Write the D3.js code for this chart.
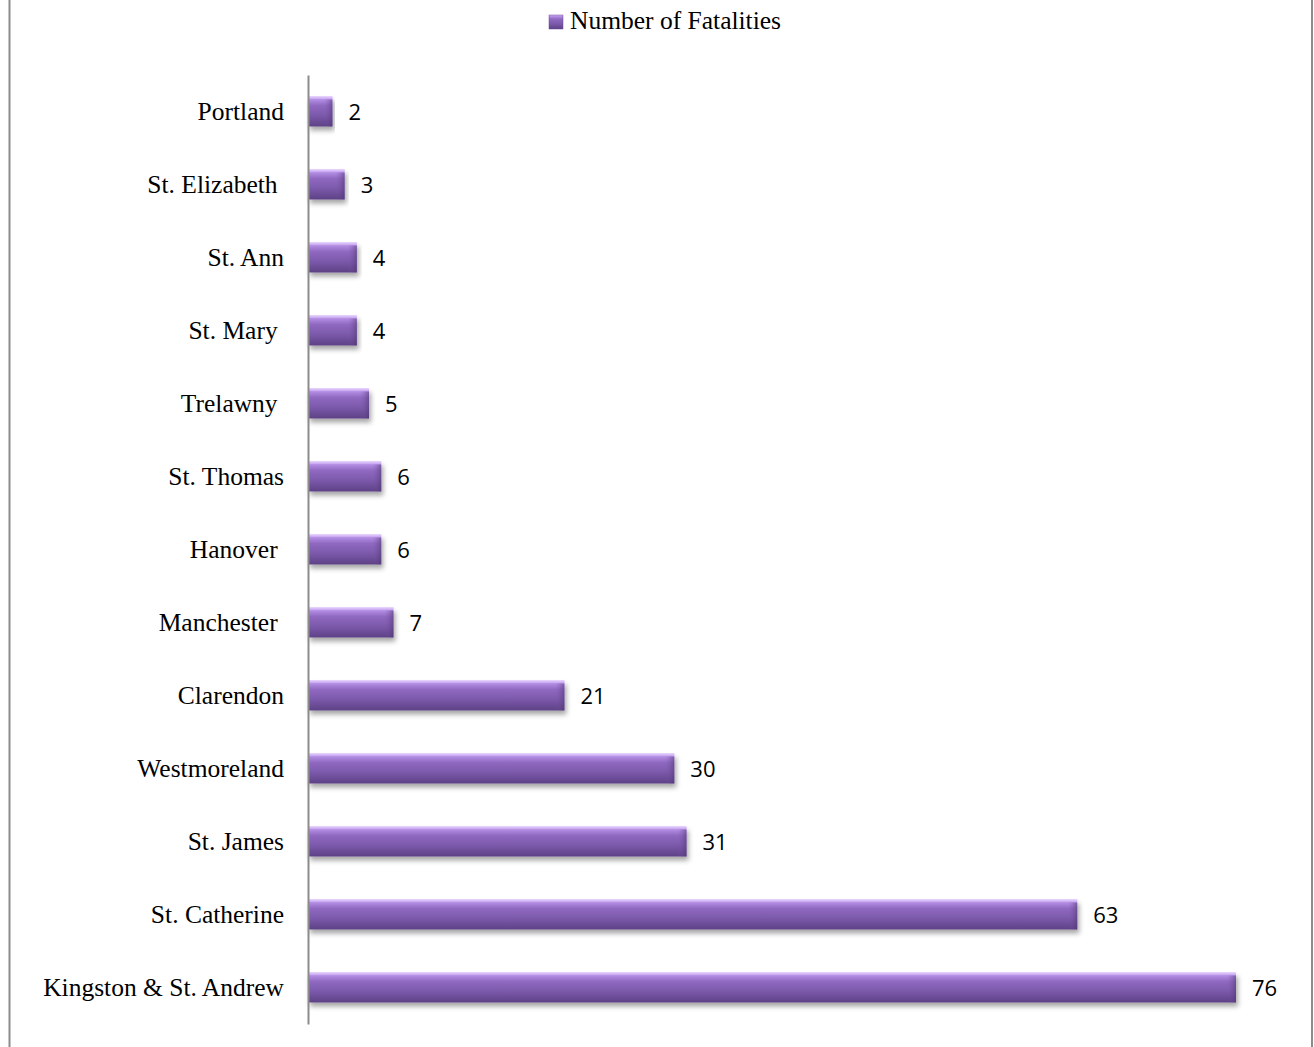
<!DOCTYPE html>
<html><head><meta charset="utf-8">
<script src="https://cdn.jsdelivr.net/npm/d3@7"></script>
<style>
html,body{margin:0;padding:0;background:#fff;}
svg{display:block;}
</style>
</head><body>
<svg id="chart" width="1314" height="1047"></svg>
<script>
const categories = ["Portland","St. Elizabeth ","St. Ann","St. Mary ","Trelawny ","St. Thomas","Hanover ","Manchester ","Clarendon","Westmoreland","St. James","St. Catherine","Kingston & St. Andrew"];
const values = [2,3,4,4,5,6,6,7,21,30,31,63,76];
const seriesName = "Number of Fatalities";

const svg = d3.select("#chart");
const W = 1314, H = 1047;
const axisX = 308;

// frame
svg.append("line").attr("x1",9.5).attr("x2",9.5).attr("y1",0).attr("y2",H).attr("stroke","#8c8c8c").attr("stroke-width",2);
svg.append("line").attr("x1",1312).attr("x2",1312).attr("y1",0).attr("y2",H).attr("stroke","#8c8c8c").attr("stroke-width",2);

const defs = svg.append("defs");
const g1 = defs.append("linearGradient").attr("id","barGrad").attr("x1",0).attr("y1",0).attr("x2",0).attr("y2",1);
[[0,"#d2b3f7"],[0.12,"#b08ae0"],[0.3,"#8f69c0"],[0.65,"#7a58a9"],[1,"#5d4185"]].forEach(s=>g1.append("stop").attr("offset",s[0]).attr("stop-color",s[1]));
const g2 = defs.append("linearGradient").attr("id","capGrad").attr("x1",0).attr("y1",0).attr("x2",1).attr("y2",0);
[[0,"#7a58a9",0],[1,"#4f3472",0.55]].forEach(s=>g2.append("stop").attr("offset",s[0]).attr("stop-color",s[1]).attr("stop-opacity",s[2]));
const f = defs.append("filter").attr("id","shadow").attr("x","-5%").attr("y","-30%").attr("width","115%").attr("height","190%");
f.append("feDropShadow").attr("dx",2).attr("dy",4).attr("stdDeviation",2.5).attr("flood-color","#000").attr("flood-opacity",0.35);

const x = d3.scaleLinear().domain([0,76]).range([axisX, 1236]);
const y = d3.scaleBand().domain(categories).range([75,1024]).paddingInner(0.59).paddingOuter(0.295);

const data = categories.map((c,i)=>({c, v: values[i]}));

const bars = svg.append("g").selectAll("g").data(data).join("g");
bars.append("rect")
  .attr("x", axisX).attr("y", d=>y(d.c))
  .attr("width", d=>x(d.v)-axisX).attr("height", y.bandwidth())
  .attr("fill","url(#barGrad)").attr("filter","url(#shadow)");
// end cap bevel
bars.append("rect")
  .attr("x", d=>x(d.v)-Math.min(9,(x(d.v)-axisX)/3)).attr("y", d=>y(d.c)+3)
  .attr("width", d=>Math.min(9,(x(d.v)-axisX)/3)).attr("height", y.bandwidth()-3)
  .attr("fill","url(#capGrad)");
// top highlight line
bars.append("rect")
  .attr("x", axisX).attr("y", d=>y(d.c))
  .attr("width", d=>x(d.v)-axisX).attr("height", 2)
  .attr("fill","#dcc2fb").attr("opacity",0.8);

// value labels
svg.append("g").selectAll("text").data(data).join("text")
  .attr("x", d=>x(d.v)+16).attr("y", d=>y(d.c)+y.bandwidth()/2+3)
  .attr("dominant-baseline","middle")
  .attr("font-family","'Open Sans', 'Liberation Sans', sans-serif")
  .attr("font-size",22).attr("fill","#000")
  .text(d=>d.v);

// axis
const yAxis = d3.axisLeft(y).tickSize(0).tickPadding(24);
const ag = svg.append("g").attr("transform",`translate(${axisX},0)`).call(yAxis);
ag.select(".domain").attr("stroke","#8c8c8c").attr("stroke-width",2);
ag.selectAll("text")
  .attr("font-family","'Liberation Serif', 'DejaVu Serif', serif")
  .attr("font-size",25.5).attr("fill","#000")
  .style("white-space","pre");

// legend
const lg = svg.append("g");
lg.append("rect").attr("x",549).attr("y",15).attr("width",14).attr("height",14)
  .attr("fill","url(#barGrad)").attr("stroke","#6a4a96").attr("stroke-width",0.5);
lg.append("text").attr("x",570).attr("y",23).attr("dominant-baseline","middle")
  .attr("font-family","'Liberation Serif', 'DejaVu Serif', serif").attr("font-size",25.5).attr("fill","#000")
  .text(seriesName);
</script>
</body></html>
